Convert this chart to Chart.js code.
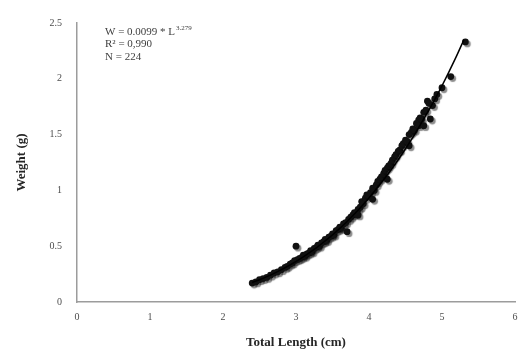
<!DOCTYPE html>
<html lang="en">
<head>
    <meta charset="UTF-8">
    <title>Length - Weight</title>
    <script src="https://cdn.jsdelivr.net/npm/chart.js"></script>
    <style>
        html, body { margin: 0; padding: 0; background: #fff; }
        .chart-box { width: 519px; height: 349px; position: relative; }
    </style>
</head>
<body>
    <div class="chart-box">
        <canvas id="lwChart"></canvas>
    </div>
    <script>
        // Total length (cm) / weight (g) of each fish
        const lengths = [
            2.40, 2.45, 2.50, 2.55, 2.60, 2.65, 2.70, 2.75, 2.80, 2.85,
            2.88, 2.92, 2.95, 2.98, 3.00, 3.02, 3.05, 3.08, 3.10, 3.12,
            3.15, 3.18, 3.20, 3.22, 3.25, 3.28, 3.30, 3.32, 3.35, 3.38,
            3.40, 3.42, 3.45, 3.48, 3.50, 3.52, 3.55, 3.58, 3.60, 3.62,
            3.65, 3.68, 3.70, 3.72, 3.75, 3.78, 3.80, 3.82, 3.85, 3.85,
            3.88, 3.90, 3.92, 3.95, 3.97, 4.00, 4.02, 4.05, 4.05, 4.07,
            4.10, 4.12, 4.15, 4.17, 4.20, 4.22, 4.25, 4.25, 4.27, 4.30,
            4.32, 4.35, 4.37, 4.40, 4.42, 4.45, 4.47, 4.50, 4.52, 4.55,
            4.55, 4.58, 4.60, 4.62, 4.65, 4.68, 4.68, 4.70, 4.72, 4.75,
            4.75, 4.78, 4.80, 4.82, 4.84, 4.87, 4.90, 4.93, 5.00, 5.12,
            5.32
        ];
        const weights = [
            0.17, 0.18, 0.20, 0.21, 0.22, 0.24, 0.26, 0.27, 0.29, 0.31,
            0.32, 0.34, 0.35, 0.37, 0.50, 0.38, 0.39, 0.40, 0.42, 0.41,
            0.43, 0.44, 0.46, 0.45, 0.48, 0.49, 0.51, 0.50, 0.53, 0.54,
            0.56, 0.55, 0.58, 0.59, 0.61, 0.60, 0.64, 0.65, 0.67, 0.66,
            0.70, 0.71, 0.63, 0.74, 0.76, 0.78, 0.80, 0.79, 0.83, 0.78,
            0.85, 0.90, 0.88, 0.93, 0.96, 0.95, 0.98, 1.02, 0.92, 1.00,
            1.05, 1.08, 1.10, 1.12, 1.15, 1.18, 1.20, 1.10, 1.22, 1.24,
            1.27, 1.30, 1.32, 1.35, 1.36, 1.40, 1.42, 1.45, 1.44, 1.50,
            1.40, 1.52, 1.55, 1.54, 1.60, 1.63, 1.58, 1.65, 1.64, 1.70,
            1.58, 1.72, 1.80, 1.78, 1.64, 1.76, 1.82, 1.86, 1.92, 2.02,
            2.33
        ];

        // power trendline as drawn in the picture
        const trendX = [2.4, 2.5, 2.6, 2.7, 2.8, 2.9, 3.0, 3.1, 3.2, 3.3, 3.4, 3.5, 3.6, 3.7, 3.8,
                        3.9, 4.0, 4.1, 4.2, 4.3, 4.4, 4.5, 4.6, 4.7, 4.8, 4.9, 5.0, 5.1, 5.2, 5.3];
        const trendY = [0.175, 0.200, 0.227, 0.257, 0.290, 0.325, 0.363, 0.404, 0.449, 0.496,
                        0.548, 0.602, 0.660, 0.722, 0.788, 0.858, 0.933, 1.012, 1.095, 1.183,
                        1.275, 1.373, 1.475, 1.584, 1.696, 1.814, 1.938, 2.069, 2.205, 2.350];

        const xTicks = [0, 1, 2, 3, 4, 5, 6];
        const yTicks = [0, 0.5, 1, 1.5, 2, 2.5];
        const noteLines = ['W = 0.0099 * L', 'R\u00B2 = 0,990', 'N = 224'];
        const noteExponent = '3.279';

        const serif = '"Liberation Serif", "Times New Roman", serif';

        // soft grey shadow under the markers, like the original
        const markerShadow = {
            id: 'markerShadow',
            beforeDatasetDraw(chart, args) {
                if (args.index !== 0) return;
                const ctx = chart.ctx;
                ctx.save();
                ctx.shadowColor = 'rgba(0,0,0,0.45)';
                ctx.shadowOffsetX = 2;
                ctx.shadowOffsetY = 2;
                ctx.shadowBlur = 1;
            },
            afterDatasetDraw(chart, args) {
                if (args.index !== 0) return;
                chart.ctx.restore();
            }
        };

        // equation box top left
        const equationNote = {
            id: 'equationNote',
            afterDraw(chart) {
                const ctx = chart.ctx;
                ctx.save();
                ctx.fillStyle = '#404040';
                ctx.textAlign = 'left';
                ctx.textBaseline = 'middle';
                ctx.font = '11px ' + serif;
                const x = 105;
                const ys = [32, 44, 57];
                noteLines.forEach((t, i) => ctx.fillText(t, x, ys[i]));
                const w = ctx.measureText(noteLines[0]).width;
                ctx.font = '7px ' + serif;
                ctx.fillText(noteExponent, x + w + 1, ys[0] - 4);
                ctx.restore();
            }
        };

        const ctx = document.getElementById('lwChart').getContext('2d');
        new Chart(ctx, {
            type: 'scatter',
            data: {
                datasets: [{
                    label: 'Weight',
                    data: lengths.map((x, i) => ({ x: x, y: weights[i] })),
                    backgroundColor: '#111',
                    borderColor: '#111',
                    pointRadius: 3.4,
                    pointBorderWidth: 0,
                    order: 2
                }, {
                    label: 'Power fit',
                    data: trendX.map((x, i) => ({ x: x, y: trendY[i] })),
                    showLine: true,
                    borderColor: '#000',
                    borderWidth: 1.5,
                    pointRadius: 0,
                    cubicInterpolationMode: 'monotone',
                    order: 1
                }]
            },
            options: {
                responsive: true,
                maintainAspectRatio: false,
                animation: false,
                layout: { padding: { top: 23, right: 0, left: 0, bottom: 0 } },
                plugins: {
                    legend: { display: false },
                    tooltip: { enabled: false }
                },
                scales: {
                    x: {
                        type: 'linear',
                        min: 0,
                        max: 6,
                        afterBuildTicks: s => { s.ticks = xTicks.map(v => ({ value: v })); },
                        afterFit: s => { s.height = 47; s.paddingRight = 0; s.paddingLeft = 0; },
                        grid: { display: false, drawTicks: false, tickLength: 0 },
                        border: { display: true, color: '#9c9c9c', width: 1.5 },
                        ticks: {
                            color: '#4d4d4d',
                            padding: 9,
                            callback: v => String(v),
                            font: { family: serif, size: 10 }
                        },
                        title: {
                            display: true,
                            text: 'Total Length (cm)',
                            color: '#262626',
                            padding: { top: 0, bottom: 0 },
                            font: { family: serif, size: 13, weight: 'bold', lineHeight: 1 }
                        }
                    },
                    y: {
                        min: 0,
                        max: 2.5,
                        afterBuildTicks: s => { s.ticks = yTicks.map(v => ({ value: v })); },
                        afterFit: s => { s.width = 77; },
                        grid: { display: false, drawTicks: false, tickLength: 0 },
                        border: { display: true, color: '#9c9c9c', width: 1.5 },
                        ticks: {
                            color: '#4d4d4d',
                            padding: 15,
                            callback: v => String(v),
                            font: { family: serif, size: 10 }
                        },
                        title: {
                            display: true,
                            text: 'Weight (g)',
                            color: '#262626',
                            padding: { top: 15, bottom: 0 },
                            font: { family: serif, size: 13, weight: 'bold', lineHeight: 1 }
                        }
                    }
                }
            },
            plugins: [markerShadow, equationNote]
        });
    </script>
</body>
</html>
